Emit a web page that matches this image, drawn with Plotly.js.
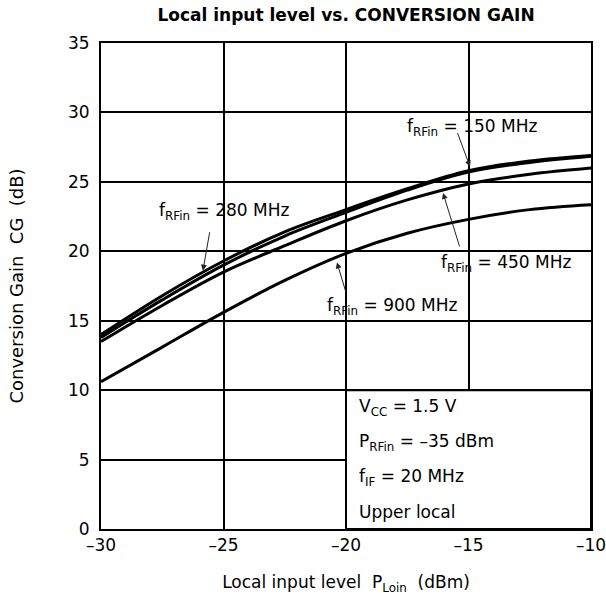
<!DOCTYPE html>
<html>
<head>
<meta charset="utf-8">
<script src="https://cdn.plot.ly/plotly-3.0.1.min.js"></script>
<style>html,body{margin:0;padding:0;background:#fff;}#chart{width:606px;height:602px;}</style>
</head>
<body>
<div id="chart"></div>
<script>
const localInput = [-30, -27.5, -25, -22.5, -20, -17.5, -15, -12.5, -10];
const gain150 = [14.0, 16.8, 19.3, 21.4, 23.0, 24.5, 25.8, 26.5, 26.9];
const gain280 = [13.8, 16.5, 19.0, 21.1, 22.8, 24.4, 25.7, 26.4, 26.85];
const gain450 = [13.5, 16.1, 18.5, 20.4, 22.2, 23.7, 24.85, 25.55, 26.0];
const gain900 = [10.6, 13.1, 15.6, 17.9, 19.85, 21.3, 22.3, 23.0, 23.35];
const xTicks = [-30, -25, -20, -15, -10];
const xTickText = ['–30', '–25', '–20', '–15', '–10'];
const yTicks = [0, 5, 10, 15, 20, 25, 30, 35];

const FONT = 'DejaVu Sans, Liberation Sans, Arial, sans-serif';
const mk = (y) => ({x: localInput, y: y, mode: 'lines', line: {color: '#000', width: 3, shape: 'spline', smoothing: 1}, hoverinfo: 'skip', showlegend: false});
const traces = [mk(gain150), mk(gain280), mk(gain450), mk(gain900)];

const lbl = (text, x, y, anchor) => ({text: text, x: x, y: y, xref: 'x', yref: 'y', showarrow: false, xanchor: anchor || 'center', yanchor: 'middle', font: {family: FONT, size: 17, color: '#000'}});
const arr = (x, y, ax, ay) => ({text: '', x: x, y: y, xref: 'x', yref: 'y', showarrow: true, arrowhead: 2, arrowsize: 1.2, arrowwidth: 1, arrowcolor: '#222', ax: ax, ay: ay});

const annotations = [
  lbl('f<sub>RFin</sub> = 150 MHz', -14.84, 28.95),
  lbl('f<sub>RFin</sub> = 280 MHz', -24.96, 22.9),
  lbl('f<sub>RFin</sub> = 450 MHz', -13.45, 19.15),
  lbl('f<sub>RFin</sub> = 900 MHz', -18.12, 16.0),
  arr(-14.94, 26.1, -13, -35),
  arr(-25.84, 18.6, 7, -40),
  arr(-16.04, 24.2, 17, 55),
  arr(-20.37, 19.2, 9, 30),
  lbl('V<sub>CC</sub> = 1.5 V', -19.55, 8.72, 'left'),
  lbl('P<sub>RFin</sub> = –35 dBm', -19.55, 6.2, 'left'),
  lbl('f<sub>IF</sub> = 20 MHz', -19.55, 3.68, 'left'),
  lbl('Upper local', -19.55, 1.24, 'left')
];

const layout = {
  width: 606, height: 602,
  margin: {l: 101, r: 15, t: 43, b: 73},
  paper_bgcolor: '#fff', plot_bgcolor: '#fff',
  font: {family: FONT, size: 17, color: '#000'},
  title: {text: '<b>Local input level vs. CONVERSION GAIN</b>', x: 0.571, xanchor: 'center', y: 0.975, yanchor: 'middle', font: {family: FONT, size: 17, color: '#000'}},
  xaxis: {range: [-30, -10], tickvals: xTicks, ticktext: xTickText, ticklabeloverflow: 'allow', showgrid: true, gridcolor: '#000', gridwidth: 2, zeroline: false, showline: true, linecolor: '#000', linewidth: 2, mirror: true, ticks: '', tickfont: {family: FONT, size: 17}, fixedrange: true,
    title: {text: 'Local input level  P<sub>Loin</sub>  (dBm)', standoff: 22, font: {family: FONT, size: 17}}},
  yaxis: {range: [0, 35], tickvals: yTicks, showgrid: true, gridcolor: '#000', gridwidth: 2, zeroline: false, showline: true, linecolor: '#000', linewidth: 2, mirror: true, ticks: '', ticklabelstandoff: 6, tickfont: {family: FONT, size: 17}, fixedrange: true,
    title: {text: 'Conversion Gain  CG  (dB)', standoff: 40, font: {family: FONT, size: 18}}},
  shapes: [
    {type: 'rect', xref: 'x', yref: 'y', x0: -20, x1: -10, y0: 0, y1: 10, fillcolor: '#fff', line: {color: '#000', width: 2}, layer: 'above'}
  ],
  annotations: annotations
};

Plotly.newPlot('chart', traces, layout, {staticPlot: true, displayModeBar: false});
</script>
</body>
</html>
